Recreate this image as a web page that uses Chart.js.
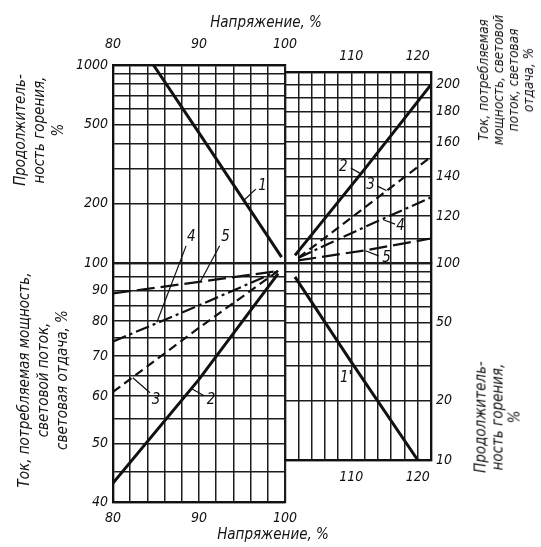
<!DOCTYPE html>
<html><head><meta charset="utf-8">
<script src="https://cdn.jsdelivr.net/npm/chart.js@4.4.1/dist/chart.umd.min.js"></script>
<style>
html,body{margin:0;padding:0;background:#fff;}
#wrap{position:relative;width:541px;height:547px;overflow:hidden;background:#fff;}
canvas{position:absolute;left:0;top:0;}
.lbl{position:absolute;font-family:"DejaVu Sans Condensed","DejaVu Sans",sans-serif;font-style:italic;color:#141414;white-space:nowrap;text-align:center;transform:translate(-50%,-50%);}
.rot{transform:translate(-50%,-50%) rotate(-90deg);}
</style></head><body>
<div id="wrap">
<canvas id="q1" width="541" height="547"></canvas>
<canvas id="q2" width="541" height="547"></canvas>
<canvas id="q3" width="541" height="547"></canvas>
<canvas id="q4" width="541" height="547"></canvas>
<div class="lbl" style="left:266px;top:22px;font-size:15px">Напряжение, %</div>
<div class="lbl" style="left:273px;top:534px;font-size:15px">Напряжение, %</div>
<div class="lbl rot" style="left:39px;top:130px;font-size:15px;line-height:19px">Продолжитель-<br>ность горения,<br>%</div>
<div class="lbl rot" style="left:43px;top:380px;font-size:15px;line-height:19px">Ток, потребляемая мощность,<br>световой поток,<br>световая отдача, %</div>
<div class="lbl rot" style="left:506px;top:80px;font-size:13.5px;line-height:15px">Ток, потребляемая<br>мощность, световой<br>поток, световая<br>отдача, %</div>
<div class="lbl rot" style="left:498px;top:417px;font-size:15px;line-height:17px">Продолжитель-<br>ность горения,<br>%</div>
</div>
<script>
// ---- data ----
// lower-left quadrant (voltage 80..100 %)
const voltLow = [80, 90, 99.2];
const fluxLow = [43, 64, 96];        // curve 2
const effLow = [61, 78, 97];         // curve 3
const powerLow = [74, 85, 97];       // curve 4
const currentLow = [89, 93, 97];     // curve 5
// upper-right quadrant (voltage 100..122 %)
const voltHighFlux = [101.5, 112, 122];
const fluxHigh = [103, 144, 200];    // curve 2
const voltHigh = [102, 112, 122];
const effHigh = [102, 124, 151];     // curve 3
const powerHigh = [102, 115, 129];   // curve 4
const currentHigh = [101, 105, 110]; // curve 5
// lamp life
const lifeVoltLow = [84.7, 90, 99.6];
const lifeLow = [1000, 454, 107];    // curve 1
const lifeVoltHigh = [101.5, 110, 120];
const lifeHigh = [85, 31.4, 10];     // curve 1'
// tick labels
const voltLabelsLeft = [80, 90, 100];
const voltLabelsRight = [110, 120];
const lifeLabelsUpper = [100, 200, 500, 1000];
const pctLabelsLower = [40, 50, 60, 70, 80, 90];
const pctLabelsUpper = [100, 120, 140, 160, 180, 200];
const lifeLabelsLower = [10, 20, 50];
// grid values
const lifeGridUpper = [100, 200, 300, 400, 500, 600, 700, 800, 900, 1000];
const pctGridLower = [40, 45, 50, 55, 60, 65, 70, 75, 80, 85, 90, 95, 100];
const pctGridUpper = [100, 110, 120, 130, 140, 150, 160, 170, 180, 190, 200, 210];
const lifeGridLower = [10, 20, 30, 40, 50, 60, 70, 80, 90, 100];

// ---- styles ----
const INK = '#111';
const GRID = '#1c1c1c';
const FONT = {family: '"DejaVu Sans Condensed","DejaVu Sans",sans-serif', style: 'italic', size: 14};
const STYLES = {
  solid: {w: 3, dash: []},
  dashed: {w: 2.2, dash: [9, 5]},
  dashDot: {w: 2.2, dash: [14, 4, 3, 4]},
  longDash: {w: 2.2, dash: [18, 6]}
};

const calloutPlugin = {
  id: 'callouts',
  afterDatasetsDraw(chart, args, opts) {
    const items = opts.items || [];
    const ctx = chart.ctx, xs = chart.scales.x, ys = chart.scales.y;
    ctx.save();
    ctx.strokeStyle = INK; ctx.fillStyle = INK; ctx.lineWidth = 1.2;
    ctx.font = 'italic 15px "DejaVu Sans Condensed","DejaVu Sans",sans-serif';
    ctx.textAlign = 'center'; ctx.textBaseline = 'middle';
    items.forEach(it => {
      if (it.leader) {
        ctx.beginPath();
        ctx.moveTo(xs.getPixelForValue(it.leader[0]), ys.getPixelForValue(it.leader[1]));
        ctx.lineTo(xs.getPixelForValue(it.leader[2]), ys.getPixelForValue(it.leader[3]));
        ctx.stroke();
      }
      ctx.fillText(it.text, xs.getPixelForValue(it.x), ys.getPixelForValue(it.y));
    });
    ctx.restore();
  }
};

function ds(xs, ys, st) {
  return {data: xs.map((x, i) => ({x: x, y: ys[i]})), borderColor: INK, borderWidth: st.w,
    borderDash: st.dash, pointRadius: 0, tension: 0, fill: false, borderCapStyle: 'butt'};
}

function makeChart(id, area, xc, yc, datasets, callouts) {
  const XH = 30, YW = 42;
  const pad = {
    left: yc.pos === 'left' ? area.l - YW : area.l,
    right: 541 - area.r - (yc.pos === 'right' ? YW : 0),
    top: xc.pos === 'top' ? area.t - XH : area.t,
    bottom: 547 - area.b - (xc.pos === 'bottom' ? XH : 0)
  };
  const edgeW = (vals) => (c) => (c.tick && (c.tick.value === vals.min || c.tick.value === vals.max)) ? 2.2 : 1.5;
  new Chart(document.getElementById(id), {
    type: 'line',
    data: {datasets: datasets},
    options: {
      responsive: false, animation: false, events: [],
      layout: {padding: pad},
      plugins: {legend: {display: false}, tooltip: {enabled: false}, callouts: {items: callouts}},
      scales: {
        x: {
          type: 'linear', position: xc.pos, min: xc.min, max: xc.max,
          afterFit: s => { s.height = XH; },
          ticks: {stepSize: 2, autoSkip: false, maxRotation: 0, color: INK, font: FONT, padding: xc.pad,
            callback: v => xc.labels.includes(v) ? String(v) : ''},
          grid: {color: GRID, lineWidth: edgeW(xc), drawTicks: false},
          border: {display: true, color: INK, width: 2.2}
        },
        y: {
          type: 'logarithmic', position: yc.pos, min: yc.min, max: yc.max,
          afterFit: s => { s.width = YW; },
          afterBuildTicks: s => { s.ticks = yc.grid.map(v => ({value: v})); },
          ticks: {autoSkip: false, color: INK, font: FONT, padding: 5,
            callback: v => yc.labels.includes(v) ? String(v) : ''},
          grid: {color: GRID, lineWidth: edgeW(yc), drawTicks: false},
          border: {display: true, color: INK, width: 2.2}
        }
      }
    },
    plugins: [calloutPlugin]
  });
}

// upper-left: lamp life, 80..100 %
makeChart('q1', {l: 113, t: 65, r: 285, b: 263},
  {pos: 'top', min: 80, max: 100, labels: voltLabelsLeft, pad: 12},
  {pos: 'left', min: 100, max: 1000, labels: lifeLabelsUpper, grid: lifeGridUpper},
  [ds(lifeVoltLow, lifeLow, STYLES.solid)],
  [{text: '1', x: 97.4, y: 245, leader: [95.2, 207, 96.6, 236]}]);

// lower-left: current, power, flux, efficacy 80..100 %
makeChart('q2', {l: 113, t: 263, r: 285, b: 502},
  {pos: 'bottom', min: 80, max: 100, labels: voltLabelsLeft, pad: 8},
  {pos: 'left', min: 40, max: 100, labels: pctLabelsLower, grid: pctGridLower},
  [ds(voltLow, fluxLow, STYLES.solid), ds(voltLow, effLow, STYLES.dashed),
   ds(voltLow, powerLow, STYLES.dashDot), ds(voltLow, currentLow, STYLES.longDash)],
  [{text: '4', x: 89.1, y: 110.5, leader: [85.1, 79.7, 88.5, 106.8]},
   {text: '5', x: 93.1, y: 110.5, leader: [90.2, 93.3, 92.4, 106.8]},
   {text: '3', x: 85.0, y: 59.2, leader: [82.3, 64.4, 84.3, 60.8]},
   {text: '2', x: 91.4, y: 59.2, leader: [89.1, 61.8, 90.6, 60.1]}]);

// upper-right: 100..122 %
makeChart('q3', {l: 285, t: 72, r: 431, b: 263},
  {pos: 'top', min: 100, max: 122, labels: voltLabelsRight, pad: 7},
  {pos: 'right', min: 100, max: 210, labels: pctLabelsUpper, grid: pctGridUpper},
  [ds(voltHighFlux, fluxHigh, STYLES.solid), ds(voltHigh, effHigh, STYLES.dashed),
   ds(voltHigh, powerHigh, STYLES.dashDot), ds(voltHigh, currentHigh, STYLES.longDash)],
  [{text: '2', x: 108.8, y: 145, leader: [109.9, 144.6, 111.4, 141.5]},
   {text: '3', x: 112.9, y: 135.4, leader: [113.9, 134.8, 115.3, 132.5]},
   {text: '4', x: 117.4, y: 115.3, leader: [114.8, 118.3, 116.6, 116.3]},
   {text: '5', x: 115.3, y: 102, leader: [112.1, 104.9, 114.1, 102.8]}]);

// lower-right: lamp life, 100..122 %
makeChart('q4', {l: 285, t: 263, r: 431, b: 460},
  {pos: 'bottom', min: 100, max: 122, labels: voltLabelsRight, pad: 9},
  {pos: 'right', min: 10, max: 100, labels: lifeLabelsLower, grid: lifeGridLower},
  [ds(lifeVoltHigh, lifeHigh, STYLES.solid)],
  [{text: "1'", x: 109.2, y: 26}]);
</script>
</body></html>
